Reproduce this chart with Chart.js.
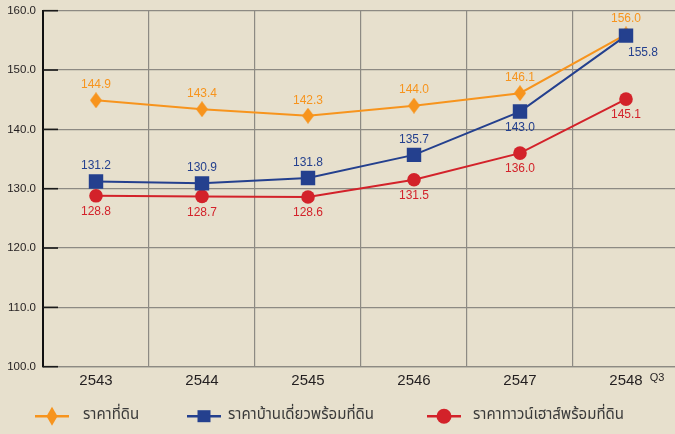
<!DOCTYPE html>
<html><head><meta charset="utf-8">
<script src="https://cdn.jsdelivr.net/npm/chart.js@4"></script>
<style>
html,body{margin:0;padding:0;background:#E7E0CD;overflow:hidden;width:675px;height:434px;}
#wrap{width:675px;height:434px;overflow:hidden;position:relative;}
canvas{display:block;}
</style>
</head><body><div id="wrap"><canvas id="c" width="679" height="434" style="width:679px;height:434px"></canvas></div>
<script>
// ---- data ----
const categories = ['2543', '2544', '2545', '2546', '2547', '2548'];
const lastCategoryNote = 'Q3';
const landPrice = [144.9, 143.4, 142.3, 144.0, 146.1, 156.0];
const detachedHousePrice = [131.2, 130.9, 131.8, 135.7, 143.0, 155.8];
const townhousePrice = [128.8, 128.7, 128.6, 131.5, 136.0, 145.1];
const seriesNames = ['ราคาที่ดิน', 'ราคาบ้านเดี่ยวพร้อมที่ดิน', 'ราคาทาวน์เฮาส์พร้อมที่ดิน'];
const yMin = 100, yMax = 160, yStep = 10;

// ---- label placement (style) ----
const landLabelPos = ['above', 'above', 'above', 'above', 'above', 'above'];
const detachedLabelPos = ['above', 'above', 'above', 'above', 'below', 'belowRight'];
const townLabelPos = ['below', 'below', 'below', 'below', 'below', 'below'];

const ORANGE = '#F7941D', BLUE = '#24408E', RED = '#D3222A';
const GRID = '#8d8a83';
const TEXT = '#231F20';
const NUMFONT = '"Liberation Sans", Arial, Helvetica, sans-serif';
const THAIFONT = '"Noto Sans Thai", "Noto Sans", "DejaVu Sans", sans-serif';

function diamond(w, h, color) {
  const c = document.createElement('canvas');
  c.width = w; c.height = h;
  const x = c.getContext('2d');
  x.fillStyle = color;
  x.beginPath();
  x.moveTo(w / 2, 0); x.lineTo(w, h / 2); x.lineTo(w / 2, h); x.lineTo(0, h / 2);
  x.closePath(); x.fill();
  return c;
}
const diamondImg = diamond(12, 16, ORANGE);

const dataLabels = {
  id: 'dataLabels',
  afterDatasetsDraw(chart) {
    const ctx = chart.ctx;
    ctx.save();
    ctx.font = '12px ' + NUMFONT;
    ctx.textAlign = 'center';
    ctx.textBaseline = 'middle';
    chart.data.datasets.forEach((ds, i) => {
      const meta = chart.getDatasetMeta(i);
      ctx.fillStyle = ds.borderColor;
      meta.data.forEach((pt, j) => {
        const pos = ds.labelPos[j];
        let dx = 0, dy = 0;
        if (pos === 'above') dy = -15.5;
        else if (pos === 'below') dy = 16;
        else if (pos === 'belowRight') { dx = 17; dy = 17; }
        ctx.fillText(ds.data[j].toFixed(1), pt.x + dx, pt.y + dy);
      });
    });
    ctx.restore();
  }
};

const innerTicks = {
  id: 'innerTicks',
  beforeDatasetsDraw(chart) {
    const ctx = chart.ctx, y = chart.scales.y, left = chart.chartArea.left;
    ctx.save();
    ctx.strokeStyle = '#1a1a1a';
    ctx.lineWidth = 1.6;
    y.ticks.forEach((t) => {
      const py = y.getPixelForValue(t.value);
      ctx.beginPath(); ctx.moveTo(left, py); ctx.lineTo(left + 15, py); ctx.stroke();
    });
    ctx.restore();
  }
};

const extras = {
  id: 'extras',
  afterDraw(chart) {
    const ctx = chart.ctx, xs = chart.scales.x, area = chart.chartArea;
    ctx.save();
    // Q3 note after last category
    ctx.font = '15px ' + NUMFONT;
    const lastIdx = categories.length - 1;
    const lw = ctx.measureText(categories[lastIdx]).width;
    const lx = xs.getPixelForValue(lastIdx) + lw / 2 + 7;
    ctx.font = '11px ' + NUMFONT;
    ctx.fillStyle = TEXT;
    ctx.textAlign = 'left';
    ctx.textBaseline = 'middle';
    ctx.fillText(lastCategoryNote, lx, area.bottom + 11);

    // legend
    const ly = area.bottom + 49.5;
    const items = [
      { sym: 52, text: 83, color: ORANGE, kind: 'diamond' },
      { sym: 204, text: 228, color: BLUE, kind: 'square' },
      { sym: 444, text: 473, color: RED, kind: 'circle' }
    ];
    items.forEach((it, i) => {
      ctx.strokeStyle = it.color;
      ctx.fillStyle = it.color;
      ctx.lineWidth = 2.5;
      ctx.beginPath(); ctx.moveTo(it.sym - 17, ly); ctx.lineTo(it.sym + 17, ly); ctx.stroke();
      ctx.beginPath();
      if (it.kind === 'diamond') {
        ctx.moveTo(it.sym, ly - 9.5); ctx.lineTo(it.sym + 5.5, ly); ctx.lineTo(it.sym, ly + 9.5); ctx.lineTo(it.sym - 5.5, ly); ctx.closePath();
      } else if (it.kind === 'square') {
        ctx.rect(it.sym - 6.5, ly - 6, 13, 12);
      } else {
        ctx.arc(it.sym, ly, 7.5, 0, Math.PI * 2);
      }
      ctx.fill();
      ctx.fillStyle = '#3a3a3a';
      ctx.font = '15px ' + THAIFONT;
      ctx.textAlign = 'left';
      ctx.textBaseline = 'middle';
      ctx.fillText(seriesNames[i], it.text, ly);
    });
    ctx.restore();
  }
};

new Chart(document.getElementById('c'), {
  type: 'line',
  data: {
    labels: categories,
    datasets: [
      { label: seriesNames[0], data: landPrice, borderColor: ORANGE, backgroundColor: ORANGE,
        pointStyle: diamondImg, borderWidth: 2, order: 2, labelPos: landLabelPos },
      { label: seriesNames[1], data: detachedHousePrice, borderColor: BLUE, backgroundColor: BLUE,
        pointStyle: 'rect', pointRadius: 8.8, borderWidth: 2, order: 0, labelPos: detachedLabelPos },
      { label: seriesNames[2], data: townhousePrice, borderColor: RED, backgroundColor: RED,
        pointStyle: 'circle', pointRadius: 6.8, pointBorderWidth: 0, borderWidth: 2, order: 1, labelPos: townLabelPos }
    ]
  },
  options: {
    responsive: false,
    animation: false,
    events: [],
    layout: { autoPadding: false, padding: { top: 10.7, left: 0, right: 0, bottom: 0 } },
    elements: { line: { tension: 0 }, point: { borderWidth: 0 } },
    plugins: { legend: { display: false }, tooltip: { enabled: false } },
    scales: {
      x: {
        offset: true,
        grid: { offset: true, color: GRID, lineWidth: 1.2, drawTicks: false },
        border: { color: GRID, width: 1.2 },
        ticks: { font: { size: 15, family: NUMFONT }, color: TEXT, padding: 5 },
        afterFit(s) { s.height = 67.3; s.paddingLeft = 0; s.paddingRight = 0; }
      },
      y: {
        min: yMin, max: yMax,
        ticks: { stepSize: yStep, callback: (v) => v.toFixed(1), font: { size: 11.5, family: NUMFONT }, color: TEXT, padding: 7 },
        grid: { color: GRID, lineWidth: 1.2, drawTicks: false },
        border: { color: '#111', width: 2 },
        afterFit(s) { s.width = 43; s.paddingTop = 0; s.paddingBottom = 0; }
      }
    }
  },
  plugins: [innerTicks, dataLabels, extras]
});
</script>
</body></html>
